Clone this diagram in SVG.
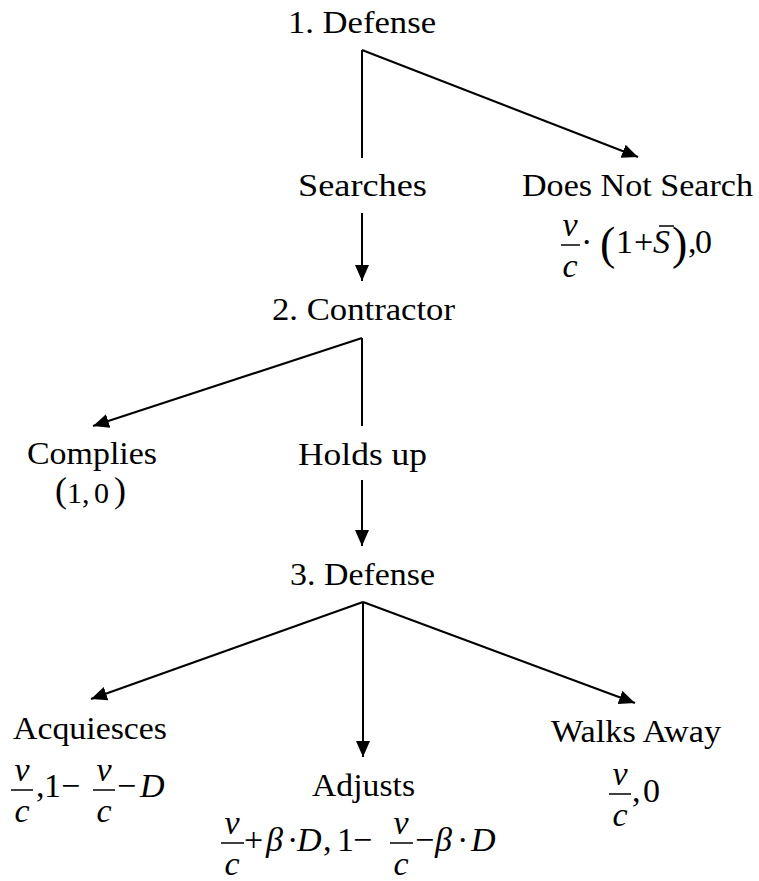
<svg xmlns="http://www.w3.org/2000/svg" width="759" height="881" viewBox="0 0 759 881">
<style>
.lbl{font-family:"Liberation Serif","Times New Roman",serif;font-size:32px;fill:#000;text-anchor:middle}
.m{font-family:"Liberation Serif","Times New Roman",serif;font-size:34px;fill:#000}
.mi{font-family:"Liberation Serif","Times New Roman",serif;font-size:34px;font-style:italic;fill:#000}
.mc{text-anchor:middle}
.par{font-family:"Liberation Serif","Times New Roman",serif;font-size:46px;fill:#000}
.edge{stroke:#000;stroke-width:2;fill:none}
.bar{stroke:#000;stroke-width:1.5}
</style>
<defs>
<marker id="ah" markerUnits="userSpaceOnUse" markerWidth="17" markerHeight="15" refX="16" refY="7" orient="auto">
<path d="M0,0 L16,7 L0,14 Z" fill="#000"/>
</marker>
</defs>
<g id="connectors">
<line class="edge" x1="362" y1="50" x2="362" y2="158"/>
<line class="edge" x1="362" y1="50" x2="638" y2="157" marker-end="url(#ah)"/>
<line class="edge" x1="362" y1="213" x2="362" y2="281" marker-end="url(#ah)"/>
<line class="edge" x1="362" y1="338" x2="362" y2="426"/>
<line class="edge" x1="362" y1="338" x2="93" y2="426" marker-end="url(#ah)"/>
<line class="edge" x1="362" y1="480" x2="362" y2="546" marker-end="url(#ah)"/>
<line class="edge" x1="363" y1="602" x2="91" y2="699" marker-end="url(#ah)"/>
<line class="edge" x1="363" y1="602" x2="363" y2="757" marker-end="url(#ah)"/>
<line class="edge" x1="363" y1="602" x2="635" y2="703" marker-end="url(#ah)"/>
</g>
<g id="n1">
<text class="lbl" x="362" y="33" textLength="148" lengthAdjust="spacingAndGlyphs">1. Defense</text>
</g>
<g id="searches">
<text class="lbl" x="362.5" y="196" textLength="129" lengthAdjust="spacingAndGlyphs">Searches</text>
</g>
<g id="doesnotsearch">
<text class="lbl" x="637.5" y="196" textLength="231" lengthAdjust="spacingAndGlyphs">Does Not Search</text>
<text class="mi mc" x="570" y="236">v</text>
<line class="bar" x1="561" y1="245" x2="580" y2="245"/>
<text class="mi mc" x="570" y="277">c</text>
<text class="m" x="581" y="253">·</text>
<text class="par" x="600" y="259">(</text>
<text class="m" x="616" y="253">1</text>
<text class="m" x="634" y="253">+</text>
<text class="mi" x="653" y="253">S</text>
<line class="bar" x1="659" y1="226" x2="674" y2="226"/>
<text class="par" x="672" y="259">)</text>
<text class="m" x="688" y="253">,</text>
<text class="m" x="695" y="253">0</text>
</g>
<g id="n2">
<text class="lbl" x="363.5" y="320" textLength="183" lengthAdjust="spacingAndGlyphs">2. Contractor</text>
</g>
<g id="complies">
<text class="lbl" x="92" y="464" textLength="130" lengthAdjust="spacingAndGlyphs">Complies</text>
<text class="par" x="55" y="502" style="font-size:36px">(</text>
<text class="m" x="67" y="503" style="font-size:30px">1</text>
<text class="m" x="82" y="503" style="font-size:30px">,</text>
<text class="m" x="94" y="503" style="font-size:30px">0</text>
<text class="par" x="114" y="502" style="font-size:36px">)</text>
</g>
<g id="holdsup">
<text class="lbl" x="362.5" y="465" textLength="129" lengthAdjust="spacingAndGlyphs">Holds up</text>
</g>
<g id="n3">
<text class="lbl" x="362.5" y="585" textLength="145" lengthAdjust="spacingAndGlyphs">3. Defense</text>
</g>
<g id="acquiesces">
<text class="lbl" x="90" y="739" textLength="154" lengthAdjust="spacingAndGlyphs">Acquiesces</text>
<text class="mi mc" x="22" y="781">v</text>
<line class="bar" x1="11" y1="790" x2="33" y2="790"/>
<text class="mi mc" x="22" y="822">c</text>
<text class="m" x="36" y="797">,</text>
<text class="m" x="44" y="797">1</text>
<text class="m" x="61" y="797">−</text>
<text class="mi mc" x="104" y="781">v</text>
<line class="bar" x1="93" y1="790" x2="115" y2="790"/>
<text class="mi mc" x="104" y="822">c</text>
<text class="m" x="117" y="797">−</text>
<text class="mi" x="140" y="797">D</text>
</g>
<g id="adjusts">
<text class="lbl" x="363.5" y="796" textLength="103" lengthAdjust="spacingAndGlyphs">Adjusts</text>
<text class="mi mc" x="232" y="834">v</text>
<line class="bar" x1="221" y1="843" x2="244" y2="843"/>
<text class="mi mc" x="232" y="875">c</text>
<text class="m" x="244" y="851">+</text>
<text class="mi" x="266" y="851">β</text>
<text class="m" x="287" y="851">·</text>
<text class="mi" x="297" y="851">D</text>
<text class="m" x="323" y="851">,</text>
<text class="m" x="337" y="851">1</text>
<text class="m" x="353" y="851">−</text>
<text class="mi mc" x="401" y="834">v</text>
<line class="bar" x1="390" y1="843" x2="413" y2="843"/>
<text class="mi mc" x="401" y="875">c</text>
<text class="m" x="415" y="851">−</text>
<text class="mi" x="435" y="851">β</text>
<text class="m" x="457" y="851">·</text>
<text class="mi" x="471" y="851">D</text>
</g>
<g id="walksaway">
<text class="lbl" x="636" y="742" textLength="170" lengthAdjust="spacingAndGlyphs">Walks Away</text>
<text class="mi mc" x="620" y="785">v</text>
<line class="bar" x1="609" y1="794" x2="631" y2="794"/>
<text class="mi mc" x="620" y="826">c</text>
<text class="m" x="632" y="802">,</text>
<text class="m" x="643" y="802">0</text>
</g>
</svg>
